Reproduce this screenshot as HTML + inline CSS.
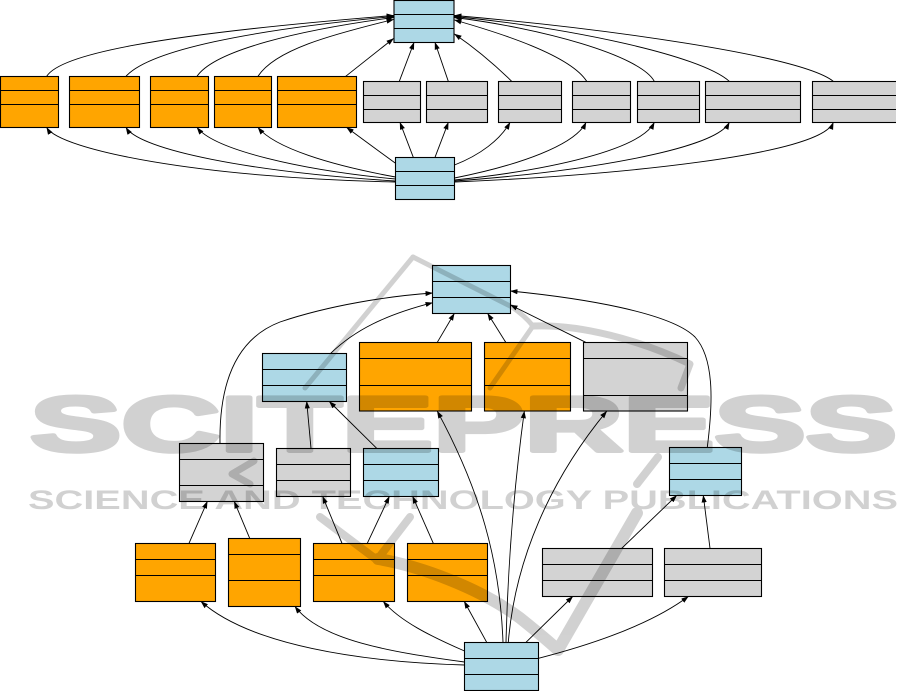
<!DOCTYPE html>
<html><head><meta charset="utf-8"><style>
html,body{margin:0;padding:0;background:#fff;}
svg{display:block;}
</style></head><body>
<svg width="915" height="691" viewBox="0 0 915 691" xmlns="http://www.w3.org/2000/svg">
<defs>
<marker id="a" markerWidth="8" markerHeight="6" refX="7" refY="3" orient="auto" markerUnits="userSpaceOnUse"><path d="M0,0.4 L7.5,3 L0,5.6z" fill="#000"/></marker>
</defs>
<rect width="915" height="691" fill="#fff"/>

<!-- ================= TOP DIAGRAM BOXES ================= -->
<g stroke="#000" stroke-width="1.1">
 <!-- top blue -->
 <rect x="394" y="0.5" width="60" height="42" fill="#add8e6"/>
 <line x1="394" y1="14.5" x2="454" y2="14.5"/><line x1="394" y1="28.5" x2="454" y2="28.5"/>
 <!-- orange row -->
 <g fill="#ffa500">
  <rect x="0.5" y="76.5" width="58" height="51"/>
  <rect x="69.5" y="76.5" width="70" height="51"/>
  <rect x="150.5" y="76.5" width="58" height="51"/>
  <rect x="214.5" y="76.5" width="57" height="51"/>
  <rect x="277.5" y="76.5" width="79" height="51"/>
 </g>
 <path d="M0.5,90.5H58.5M0.5,104.5H58.5M69.5,90.5H139.5M69.5,104.5H139.5M150.5,90.5H208.5M150.5,104.5H208.5M214.5,90.5H271.5M214.5,104.5H271.5M277.5,90.5H356.5M277.5,104.5H356.5" fill="none"/>
 <!-- gray row -->
 <g fill="#d3d3d3">
  <rect x="363.5" y="81.5" width="57" height="41"/>
  <rect x="426.5" y="81.5" width="61" height="41"/>
  <rect x="498.5" y="81.5" width="63" height="41"/>
  <rect x="572.5" y="81.5" width="58" height="41"/>
  <rect x="637.5" y="81.5" width="62" height="41"/>
  <rect x="705.5" y="81.5" width="95" height="41"/>
  <rect x="812.5" y="81.5" width="110" height="41"/>
 </g>
 <path d="M363.5,95.5H420.5M363.5,109.5H420.5M426.5,95.5H487.5M426.5,109.5H487.5M498.5,95.5H561.5M498.5,109.5H561.5M572.5,95.5H630.5M572.5,109.5H630.5M637.5,95.5H699.5M637.5,109.5H699.5M705.5,95.5H800.5M705.5,109.5H800.5M812.5,95.5H922M812.5,109.5H922" fill="none"/>
 <!-- bottom blue -->
 <rect x="395.5" y="157.5" width="59" height="42" fill="#add8e6"/>
 <line x1="395.5" y1="171.5" x2="454.5" y2="171.5"/><line x1="395.5" y1="185.5" x2="454.5" y2="185.5"/>
</g>
<rect x="896" y="74" width="19" height="56" fill="#fff"/>

<!-- ================= TOP DIAGRAM EDGES ================= -->
<g fill="none" stroke="#000" stroke-width="0.9" marker-end="url(#a)">
 <path d="M46.7,76.3 C60,55 150,35 393.5,15.5"/>
 <path d="M126,76.3 C150,50 250,30 393.5,16.5"/>
 <path d="M197,76.3 C215,50 300,30 393.5,17.5"/>
 <path d="M258,76.3 C275,50 330,35 393.5,19.5"/>
 <path d="M345.7,76.3 L393.5,38.5"/>
 <path d="M399.3,81.3 L414,42.5"/>
 <path d="M448.3,81.3 L435,42.5"/>
 <path d="M511.7,81.3 C495,65 475,48 454.5,34"/>
 <path d="M586.7,81.3 C570,55 500,33 454.5,20"/>
 <path d="M654.3,81.3 C640,55 540,28 454.5,17.5"/>
 <path d="M729.3,81.3 C700,55 570,28 454.5,16.5"/>
 <path d="M833.3,81.3 C800,55 600,28 454.5,15.5"/>

 <path d="M395.5,182 C200,178 60,150 46.7,127.5"/>
 <path d="M395.5,181 C250,172 140,150 126,127.5"/>
 <path d="M395.5,179 C300,170 215,150 197,127.5"/>
 <path d="M395.5,177 C330,165 275,148 258,127.5"/>
 <path d="M395.5,163.3 L346.7,127.5"/>
 <path d="M413.3,157.3 L400,122.5"/>
 <path d="M435,157.3 L448.3,122.5"/>
 <path d="M454.5,165 C480,155 500,140 510,122.5"/>
 <path d="M454.5,178 C520,165 575,145 586,122.5"/>
 <path d="M454.5,180 C550,170 640,150 654.3,122.5"/>
 <path d="M454.5,181 C580,172 715,150 729.3,122.5"/>
 <path d="M454.5,182 C620,175 820,155 833.3,122.5"/>
</g>

<!-- ================= BOTTOM DIAGRAM BOXES ================= -->
<g stroke="#000" stroke-width="1.1">
 <g fill="#add8e6">
  <rect x="432.5" y="265.5" width="78" height="48"/>
  <rect x="262.5" y="353.5" width="84" height="48"/>
  <rect x="363.5" y="448.5" width="75" height="48"/>
  <rect x="669.5" y="447.5" width="72" height="48"/>
  <rect x="464.5" y="642.5" width="74" height="48"/>
 </g>
 <g fill="#ffa500">
  <rect x="359.5" y="342.5" width="112" height="68.5"/>
  <rect x="484.5" y="342.5" width="86" height="68.5"/>
  <rect x="135.5" y="543.5" width="80" height="58"/>
  <rect x="228.5" y="538.5" width="72" height="68"/>
  <rect x="313.5" y="543.5" width="81" height="58"/>
  <rect x="407.5" y="543.5" width="80" height="58"/>
 </g>
 <g fill="#d3d3d3">
  <rect x="583.5" y="342.5" width="104" height="68.5"/>
  <rect x="179.5" y="443.5" width="84" height="58"/>
  <rect x="276.5" y="448.5" width="74" height="48"/>
  <rect x="542.5" y="548.5" width="110" height="48"/>
  <rect x="664.5" y="548.5" width="97" height="48"/>
 </g>
 <path fill="none" d="
 M432.5,281.5H510.5M432.5,297.5H510.5
 M262.5,369.5H346.5M262.5,385.5H346.5
 M363.5,464.5H438.5M363.5,480.5H438.5
 M669.5,463.5H741.5M669.5,479.5H741.5
 M464.5,658.5H538.5M464.5,674.5H538.5
 M359.5,358.5H471.5M359.5,385.5H471.5
 M484.5,358.5H570.5M484.5,385.5H570.5
 M135.5,559.5H215.5M135.5,575.5H215.5
 M228.5,554.5H300.5M228.5,580.5H300.5
 M313.5,559.5H394.5M313.5,575.5H394.5
 M407.5,559.5H487.5M407.5,575.5H487.5
 M583.5,358.5H687.5M583.5,395.5H687.5
 M179.5,459.5H263.5M179.5,485.5H263.5
 M276.5,464.5H350.5M276.5,480.5H350.5
 M542.5,564.5H652.5M542.5,580.5H652.5
 M664.5,564.5H761.5M664.5,580.5H761.5"/>
</g>

<!-- ================= BOTTOM DIAGRAM EDGES ================= -->
<g fill="none" stroke="#000" stroke-width="0.9" marker-end="url(#a)">
 <path d="M220,443.3 C219,380 238,338 280,322 C330,305 390,296 432.5,293"/>
 <path d="M330.7,353.3 C355,330 385,315 432.5,302.7"/>
 <path d="M437.3,342.3 L454.3,313.5"/>
 <path d="M505.7,342.3 L487.7,313.5"/>
 <path d="M585.7,342.3 L510.5,305"/>
 <path d="M707.3,447.3 C712,410 716,360 695,337 C670,312 580,298 510.5,291"/>
 <path d="M311,448.3 L306.7,401.5"/>
 <path d="M376.7,448.3 L329.3,401.5"/>
 <path d="M189,543.3 L207.3,501.5"/>
 <path d="M249.7,538.3 L234.3,501.5"/>
 <path d="M342,543.3 L322.7,496.5"/>
 <path d="M367.3,543.3 L389.3,496.5"/>
 <path d="M433.3,543.3 L412.7,496.5"/>
 <path d="M621.7,548.3 L676.7,495.5"/>
 <path d="M710,548.3 L703.3,495.5"/>
 <path d="M486.7,642.3 L464.3,601.5"/>
 <path d="M503,642.3 C500,560 480,490 437.3,411.2"/>
 <path d="M506,642.3 C508,560 515,480 524.3,411.2"/>
 <path d="M508.3,642.3 C515,560 550,480 606.7,411.2"/>
 <path d="M526,642.3 L572.7,596.5"/>
 <path d="M538.5,658.3 C590,645 650,625 688.3,596.5"/>
 <path d="M464.5,651 C430,636 400,621 383.3,601.5"/>
 <path d="M464.5,662 C390,652 320,640 295,606.5"/>
 <path d="M464.5,665 C360,662 250,645 201,601.5"/>
</g>

<!-- ================= WATERMARK ================= -->
<g opacity="0.175">
 <g fill="none" stroke="#000" stroke-linecap="round" stroke-linejoin="round">
  <path d="M413,257 L305,388" stroke-width="5"/>
  <path d="M413,257 L512,307 Q525,316 533,326 L490,388" stroke-width="5"/>
  <path d="M533,326 C580,324 640,340 690,364 L681,388" stroke-width="7"/>
  <path d="M254,461 L232,474 L250,484" stroke-width="7"/>
  <path d="M320,517 L377,560 L410,517" stroke-width="8"/>
  <path d="M378,559 C420,566 480,588 520,618 Q545,638 558,650 L637,513" stroke-width="12"/>
  <path d="M658,457 L637,484" stroke-width="8"/>
 </g>
 <text x="30" y="451" font-family="Liberation Sans, sans-serif" font-weight="bold" font-size="78" textLength="867" lengthAdjust="spacingAndGlyphs" fill="#000" stroke="#000" stroke-width="4" stroke-linejoin="round">SCITEPRESS</text>
 <text x="28" y="509" font-family="Liberation Sans, sans-serif" font-weight="bold" font-size="27" textLength="870" lengthAdjust="spacingAndGlyphs" fill="#000">SCIENCE AND TECHNOLOGY PUBLICATIONS</text>
</g>
</svg>
</body></html>
